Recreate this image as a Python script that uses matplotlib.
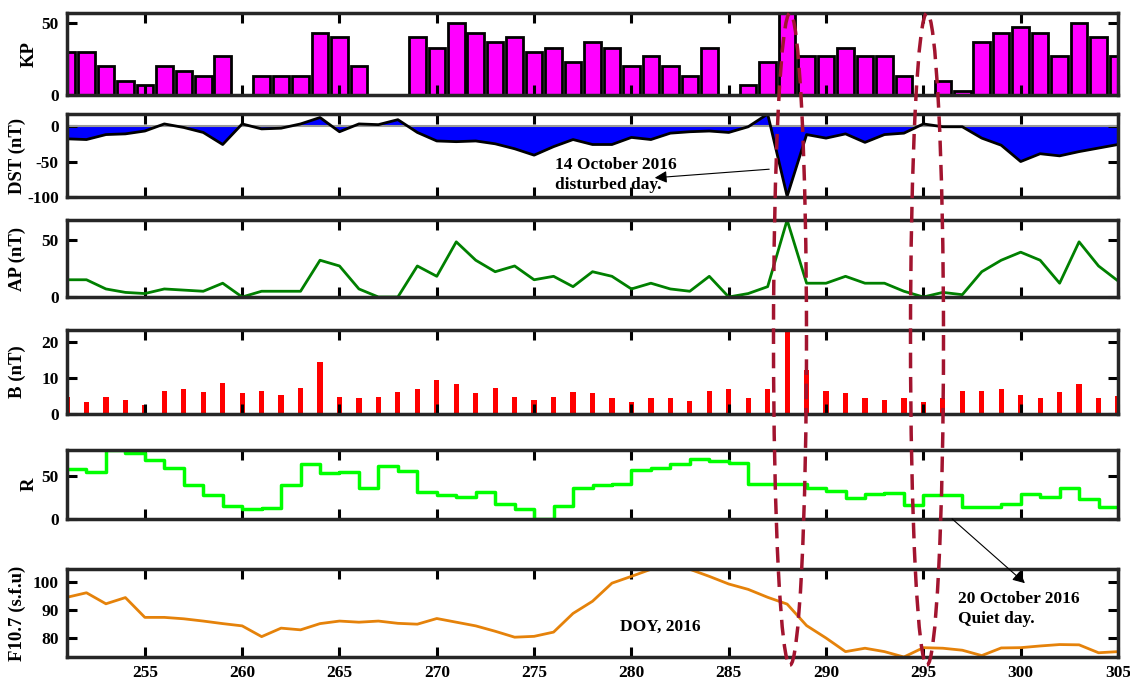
import matplotlib.pyplot as plt
from matplotlib.patches import Ellipse

plt.rcParams['font.family'] = ['Liberation Serif', 'DejaVu Serif']
plt.rcParams['font.weight'] = 'bold'
plt.rcParams['axes.labelweight'] = 'bold'
plt.rcParams['axes.unicode_minus'] = False
plt.rcParams['font.size'] = 12

# day of year 2016
days = list(range(251, 306))

kp = [30, 30, 20, 10, 7, 20, 17, 13, 27, 0,
      13, 13, 13, 43, 40, 20, 0, 0, 40, 33,
      50, 43, 37, 40, 30, 33, 23, 37, 33, 20,
      27, 20, 13, 33, 0, 7, 23, 57, 27, 27,
      33, 27, 27, 13, 0, 10, 3, 37, 43, 47,
      43, 27, 50, 40, 27]

dst = [-18, -19, -12, -11, -7, 3, -2, -9, -26, 3,
       -4, -3, 3, 12, -8, 3, 2, 9, -9, -21,
       -22, -21, -25, -32, -41, -29, -19, -26, -26, -16,
       -19, -10, -8, -7, -9, -1, 17, -99, -12, -17,
       -11, -23, -12, -10, 3, -1, -1, -17, -27, -50,
       -39, -42, -36, -31, -26]

ap = [15, 15, 7, 4, 3, 7, 6, 5, 12, 0,
      5, 5, 5, 32, 27, 7, 0, 0, 27, 18,
      48, 32, 22, 27, 15, 18, 9, 22, 18, 7,
      12, 7, 5, 18, 0, 3, 9, 67, 12, 12,
      18, 12, 12, 5, 0, 4, 2, 22, 32, 39,
      32, 12, 48, 27, 14]

bmag = [4.8, 3.2, 4.8, 4.0, 2.6, 6.5, 6.8, 6.0, 8.7, 5.7,
        6.5, 5.4, 7.1, 14.3, 4.6, 4.3, 4.6, 6.2, 6.8, 9.3,
        8.2, 5.7, 7.3, 4.8, 4.0, 4.8, 6.0, 5.7, 4.5, 3.4,
        4.5, 4.5, 3.7, 6.5, 6.8, 4.5, 6.8, 23.2, 12.3, 6.5,
        5.7, 4.3, 4.0, 4.3, 3.4, 4.5, 6.5, 6.5, 6.8, 5.4,
        4.3, 6.0, 8.2, 4.5, 5.1]

r_num = [58, 55, 80, 77, 68, 59, 39, 28, 15, 12,
         13, 39, 64, 53, 55, 36, 61, 56, 31, 28,
         26, 31, 17, 12, 0, 15, 36, 40, 41, 57,
         59, 64, 70, 67, 65, 41, 41, 41, 36, 32,
         24, 29, 30, 16, 28, 28, 14, 14, 17, 29,
         25, 36, 23, 14, 14]

f107 = [94.5, 96.1, 92.2, 94.4, 87.4, 87.4, 86.9, 86.1, 85.2, 84.4,
        80.6, 83.6, 83.0, 85.2, 86.1, 85.7, 86.1, 85.3, 85.0, 87.0,
        85.7, 84.4, 82.5, 80.4, 80.7, 82.2, 88.8, 93.1, 99.5, 101.9,
        104.4, 104.4, 104.4, 101.9, 99.2, 97.3, 94.5, 92.1, 84.5, 80.1,
        75.3, 76.5, 75.3, 73.4, 76.7, 76.5, 75.8, 73.9, 76.6, 76.7,
        77.3, 77.8, 77.7, 74.9, 75.3]

fig = plt.figure(figsize=(11.3, 6.81), dpi=100)

L, W = 67 / 1130, 1051 / 1130
H = 681
def box(top, bot):
    return [L, 1 - bot / H, W, (bot - top) / H]

ax_kp = fig.add_axes(box(13, 95))
ax_dst = fig.add_axes(box(114, 197))
ax_ap = fig.add_axes(box(220, 297))
ax_b = fig.add_axes(box(330, 414))
ax_r = fig.add_axes(box(450, 519))
ax_f = fig.add_axes(box(569, 657))
axes = [ax_kp, ax_dst, ax_ap, ax_b, ax_r, ax_f]

# KP
ax_kp.bar(days, kp, width=0.85, color='#FF00FF', edgecolor='black', linewidth=2)
ax_kp.set_ylim(0, 57)
ax_kp.set_yticks([0, 50])
ax_kp.set_ylabel('KP')

# DST
ax_dst.fill_between(days, dst, 0, color='#0000FF', linewidth=0)
ax_dst.axhline(0, color='#999999', lw=1.5)
ax_dst.plot(days, dst, color='black', lw=2)
ax_dst.set_ylim(-100, 17)
ax_dst.set_yticks([-100, -50, 0])
ax_dst.set_ylabel('DST (nT)')

# AP
ax_ap.plot(days, ap, color='#008000', lw=2)
ax_ap.set_ylim(0, 67)
ax_ap.set_yticks([0, 50])
ax_ap.set_ylabel('AP (nT)')

# B
ax_b.bar(days, bmag, width=0.27, color='#FF0000')
ax_b.set_ylim(0, 23.3)
ax_b.set_yticks([0, 10, 20])
ax_b.set_ylabel('B (nT)')

# R
ax_r.step(days, r_num, where='post', color='#00FF00', lw=2.5)
ax_r.set_ylim(0, 80)
ax_r.set_yticks([0, 50])
ax_r.set_ylabel('R')

# F10.7
ax_f.plot(days, f107, color='#E5820A', lw=2)
ax_f.set_ylim(73.4, 104.5)
ax_f.set_yticks([80, 90, 100])
ax_f.set_ylabel('F10.7 (s.f.u)')

for ax in axes:
    ax.set_xlim(251, 305)
    ax.set_xticks(range(255, 306, 5))
    ax.tick_params(direction='in', length=7, width=2.2, top=True, right=True,
                   labelsize=12.5, pad=6)
    for s in ax.spines.values():
        s.set_linewidth(2.5)
        s.set_color('#262626')
    ax.yaxis.label.set_size(13.5)
    if ax is not ax_f:
        ax.tick_params(labelbottom=False)

# ylabel positions (MATLAB-like, not aligned)
for ax, xpix in [(ax_kp, 38), (ax_dst, 26), (ax_ap, 26), (ax_b, 26),
                 (ax_r, 38), (ax_f, 26)]:
    ax.yaxis.set_label_coords((xpix - 67) / 1051, 0.5)

# annotations
fig.text(555 / 1130, 1 - 175 / H, '14 October 2016\ndisturbed day.', fontsize=12.5,
         va='center', ha='left', linespacing=1.4)
fig.text(958 / 1130, 1 - 609 / H, '20 October 2016\nQuiet day.', fontsize=12.5,
         va='center', ha='left', linespacing=1.4)
fig.text(620 / 1130, 1 - 627 / H, 'DOY, 2016', fontsize=12.5, va='center', ha='left')

ax_f.annotate('', xy=(652 / 1130, 1 - 178 / H), xycoords='figure fraction',
              xytext=(772 / 1130, 1 - 169 / H), textcoords='figure fraction',
              arrowprops=dict(arrowstyle='-|>', color='black', lw=0.8,
                              mutation_scale=18))
ax_f.annotate('', xy=(1027 / 1130, 1 - 585 / H), xycoords='figure fraction',
              xytext=(950 / 1130, 1 - 517 / H), textcoords='figure fraction',
              arrowprops=dict(arrowstyle='-|>', color='black', lw=0.8,
                              mutation_scale=18))

for cx in (790, 927):
    e = Ellipse((cx / 1130, 1 - 339 / H), 33 / 1130, 652 / H,
                transform=fig.transFigure, fill=False, edgecolor='#A2142F',
                lw=2.5, linestyle=(0, (4.5, 2.5)), zorder=10)
    fig.add_artist(e)

fig.savefig('out.png', dpi=100)
